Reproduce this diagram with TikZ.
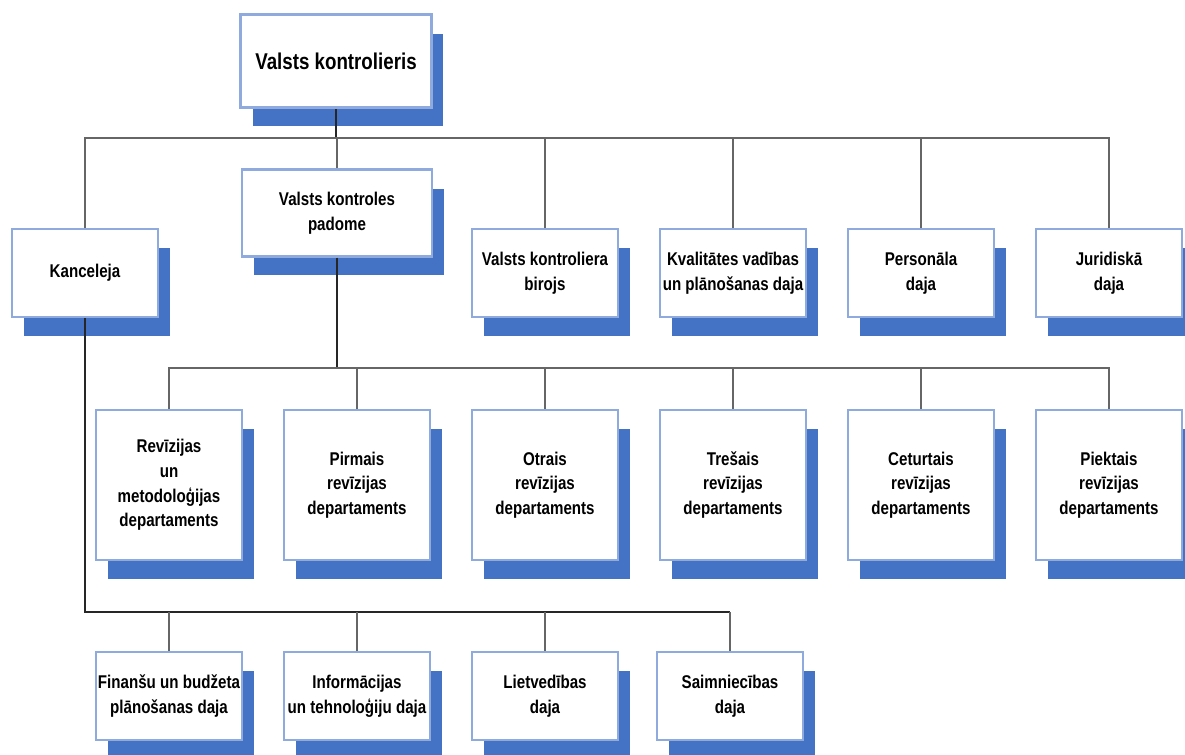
\documentclass[tikz,border=0pt]{standalone}
\usepackage{fontspec}
\usepackage{tikz}
\usetikzlibrary{shadows}
\newfontfamily\orgfont{Liberation Sans}[FakeStretch=0.82]
\definecolor{shadowblue}{HTML}{4472C4}
\definecolor{edgeblue}{HTML}{8FAADC}
\tikzset{
  unit/.style={draw=edgeblue,line width=1.2pt,fill=white,align=center,
    minimum width=2.92cm,minimum height=1.76cm,inner sep=1pt,
    font=\orgfont\bfseries\fontsize{10.5}{14}\selectfont,
    drop shadow={shadow xshift=0.24cm,shadow yshift=-0.38cm,fill=shadowblue,opacity=1}},
  dept/.style={unit,minimum height=3cm},
  trunk/.style={line width=1.1pt,black!85},
  branch/.style={line width=0.7pt,black!60}
}

\begin{document}
\begin{tikzpicture}[x=0.02cm,y=-0.02cm]
\useasboundingbox(0,0)rectangle(1185,754);
% head
\node[unit,line width=2pt,minimum width=3.82cm,minimum height=1.86cm,
  font=\orgfont\bfseries\fontsize{13}{16}\selectfont](vk)at(336,61){Valsts kontrolieris};
% first level
\node[unit](kanc)at(85,273){Kanceleja};
\node[unit,minimum width=3.8cm,minimum height=1.74cm](padome)at(337,213){Valsts kontroles\\padome};
\node[unit](birojs)at(545,273){Valsts kontroliera\\birojs};
\node[unit](kval)at(733,273){Kvalitātes vadības\\un plānošanas daja};
\node[unit](pers)at(921,273){Personāla\\daja};
\node[unit](jur)at(1109,273){Juridiskā\\daja};
% departments
\node[dept](rev)at(169,485){Revīzijas\\un\\metodoloģijas\\departaments};
\node[dept](pirm)at(357,485){Pirmais\\revīzijas\\departaments};
\node[dept](otr)at(545,485){Otrais\\revīzijas\\departaments};
\node[dept](tres)at(733,485){Trešais\\revīzijas\\departaments};
\node[dept](cet)at(921,485){Ceturtais\\revīzijas\\departaments};
\node[dept](piek)at(1109,485){Piektais\\revīzijas\\departaments};
% under Kanceleja
\node[unit](fin)at(169,696){Finanšu un budžeta\\plānošanas daja};
\node[unit](inf)at(357,696){Informācijas\\un tehnoloģiju daja};
\node[unit](liet)at(545,696){Lietvedības\\daja};
\node[unit](saim)at(730,696){Saimniecības\\daja};
% buses
\coordinate(busa)at(0,138);
\coordinate(busb)at(0,368);
\coordinate(busc)at(0,612);
\draw[trunk](vk.south)--(vk.south|-busa);
\draw[branch](kanc.north)|-(busa-|jur.north)--(jur.north);
\foreach \n in {padome,birojs,kval,pers}
  \draw[branch](\n.north)--(\n.north|-busa);
\draw[trunk](padome.south)--(padome.south|-busb);
\draw[branch](rev.north)|-(busb-|piek.north)--(piek.north);
\foreach \n in {pirm,otr,tres,cet}
  \draw[branch](\n.north)--(\n.north|-busb);
\draw[trunk](kanc.south)|-(busc-|saim.north);
\foreach \n in {fin,inf,liet,saim}
  \draw[branch](\n.north)--(\n.north|-busc);
\end{tikzpicture}
\end{document}
